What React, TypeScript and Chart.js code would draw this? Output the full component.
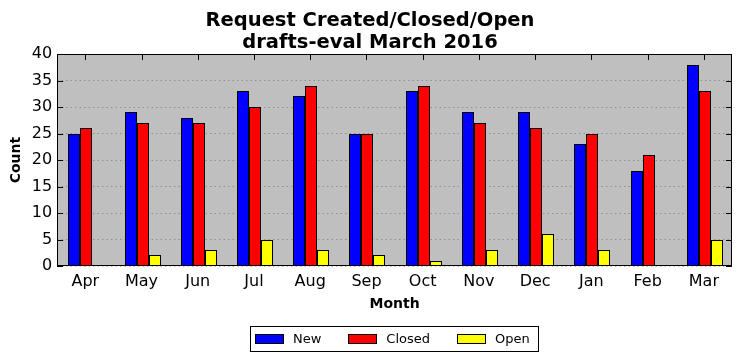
import React, { useEffect, useRef } from 'react';
import { Chart, registerables } from 'chart.js';

Chart.register(...registerables);

const months = ['Apr', 'May', 'Jun', 'Jul', 'Aug', 'Sep', 'Oct', 'Nov', 'Dec', 'Jan', 'Feb', 'Mar'];
const newCounts = [25, 29, 28, 33, 32, 25, 33, 29, 29, 23, 18, 38];
const closedCounts = [26, 27, 27, 30, 34, 25, 34, 27, 26, 25, 21, 33];
const openCounts = [0, 2, 3, 5, 3, 2, 1, 3, 6, 3, 0, 5];
const seriesNames = ['New', 'Closed', 'Open'];
const seriesColors = ['#0000ff', '#ff0000', '#ffff00'];
const titleLines = ['Request Created/Closed/Open', 'drafts-eval March 2016'];

const FONT = "'DejaVu Sans', 'Liberation Sans', sans-serif";

const framePlugin = {
  id: 'mplFrame',
  afterDatasetsUpdate(chart: any) {
    chart.data.datasets.forEach((_d: any, i: number) => {
      const meta = chart.getDatasetMeta(i);
      meta.data.forEach((el: any) => {
        const half = el.width / 2;
        el.x = Math.round(el.x - half) + 1 + half;
        el.y = Math.round(el.y);
        el.base = Math.round(el.base);
      });
    });
  },
  beforeDraw(chart: any) {
    const { ctx, chartArea: a } = chart;
    ctx.save();
    ctx.fillStyle = '#bfbfbf';
    ctx.fillRect(a.left, a.top, a.right - a.left, a.bottom - a.top);
    ctx.restore();
  },
  beforeDatasetsDraw(chart: any) {
    const { ctx, chartArea: a, scales } = chart;
    const x = scales.x;
    const y = scales.y;
    ctx.save();
    ctx.strokeStyle = '#000';
    ctx.lineWidth = 1;
    const L = 6;
    ctx.beginPath();
    y.ticks.forEach((t: any) => {
      const py = Math.round(y.getPixelForValue(t.value)) + 0.5;
      ctx.moveTo(a.left, py);
      ctx.lineTo(a.left + L, py);
      ctx.moveTo(a.right, py);
      ctx.lineTo(a.right - L, py);
    });
    x.ticks.forEach((_t: any, i: number) => {
      const px = Math.round(x.getPixelForTick(i)) + 0.5;
      ctx.moveTo(px, a.top);
      ctx.lineTo(px, a.top + L);
    });
    ctx.stroke();
    ctx.restore();
  },
  afterDatasetsDraw(chart: any) {
    const { ctx, chartArea: a } = chart;
    ctx.save();
    ctx.strokeStyle = '#000';
    ctx.lineWidth = 1;
    ctx.strokeRect(Math.round(a.left) + 0.5, Math.round(a.top) + 0.5, Math.round(a.right - a.left) - 1, Math.round(a.bottom - a.top) - 1);
    ctx.restore();
  },
  afterDraw(chart: any) {
    const { ctx, chartArea: a } = chart;
    const ds = chart.data.datasets;
    ctx.save();
    ctx.font = `13px ${FONT}`;
    const boxW = 29, boxH = 10, gapText = 9, gapItem = 27, padL = 5, padR = 8;
    const widths = ds.map((d: any) => boxW + gapText + ctx.measureText(d.label).width);
    const total = Math.round(padL + padR + widths.reduce((s: number, w: number) => s + w, 0) + gapItem * (ds.length - 1));
    const cx = (a.left + a.right) / 2;
    const left = Math.round(cx - total / 2) - 1;
    const top = chart.height - 35;
    const h = 25;
    ctx.fillStyle = '#fff';
    ctx.fillRect(left, top, total, h);
    ctx.strokeStyle = '#000';
    ctx.lineWidth = 1;
    ctx.strokeRect(left + 0.5, top + 0.5, total, h);
    let xPos = left + padL;
    const cy = top + h / 2;
    ds.forEach((d: any, i: number) => {
      const bx = Math.round(xPos);
      const by = Math.round(cy - boxH / 2);
      ctx.fillStyle = d.backgroundColor;
      ctx.fillRect(bx, by, boxW, boxH);
      ctx.strokeRect(bx + 0.5, by + 0.5, boxW - 1, boxH - 1);
      ctx.fillStyle = '#000';
      ctx.textBaseline = 'middle';
      ctx.textAlign = 'left';
      ctx.fillText(d.label, xPos + boxW + gapText, cy + 1);
      xPos += widths[i] + gapItem;
    });
    ctx.restore();
  },
};

export default function App() {
  const ref = useRef<HTMLCanvasElement>(null);
  useEffect(() => {
    if (!ref.current) return;
    const values = [newCounts, closedCounts, openCounts];
    const chart = new Chart(ref.current, {
      type: 'bar',
      data: {
        labels: months,
        datasets: seriesNames.map((name, i) => ({
          label: name,
          data: values[i],
          backgroundColor: seriesColors[i],
          borderColor: '#000',
          borderWidth: 1,
          borderSkipped: false,
          inflateAmount: 0,
          categoryPercentage: 0.64,
          barPercentage: 1.0,
        })),
      },
      options: {
        animation: false,
        responsive: false,
        devicePixelRatio: 1,
        layout: { padding: { left: 8, right: 9, top: 0, bottom: 48 } },
        plugins: {
          legend: { display: false },
          tooltip: { enabled: false },
          title: {
            display: true,
            text: titleLines,
            color: '#000',
            font: { family: FONT, size: 19.5, weight: 'bold', lineHeight: 1.13 },
            padding: { top: 10, bottom: 0 },
          },
        },
        scales: {
          x: {
            grid: { display: false, drawTicks: false },
            border: { display: false },
            ticks: { color: '#000', font: { family: FONT, size: 16 }, padding: 6 },
            title: {
              display: true,
              text: 'Month',
              color: '#000',
              font: { family: FONT, size: 14, weight: 'bold' },
              padding: { top: -1, bottom: 0 },
            },
          },
          y: {
            min: 0,
            max: 40,
            ticks: { stepSize: 5, color: '#000', font: { family: FONT, size: 16 }, padding: 5 },
            grid: {
              drawTicks: false,
              color: 'rgba(0,0,0,0.25)',
              lineWidth: 1,
            },
            border: { display: false, dash: [1.5, 3] },
            title: {
              display: true,
              text: 'Count',
              color: '#000',
              font: { family: FONT, size: 14, weight: 'bold' },
              padding: { top: 0, bottom: 2 },
            },
          },
        },
      },
      plugins: [framePlugin],
    });
    return () => chart.destroy();
  }, []);
  return (
    <div style={{ position: 'absolute', left: 0, top: 0, width: 741, height: 361, background: '#fff' }}>
      <canvas ref={ref} width={741} height={361} />
    </div>
  );
}
